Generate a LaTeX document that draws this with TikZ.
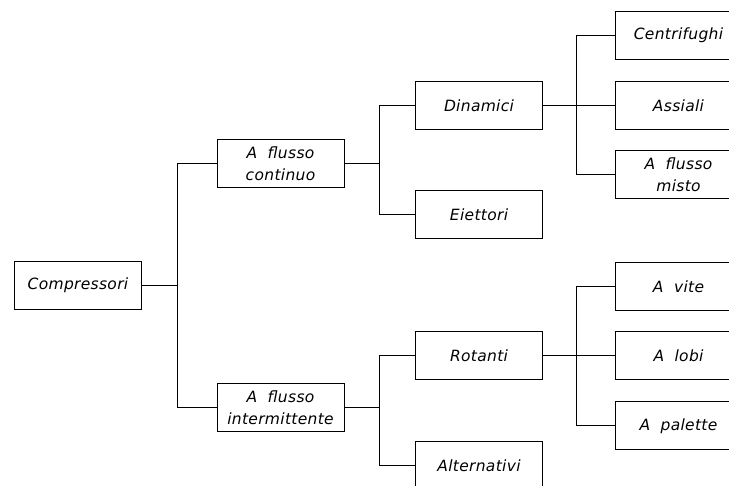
\documentclass[tikz,border=0pt]{standalone}
\usepackage{fontspec}
\setmainfont{DejaVu Sans}[LetterSpace=2]
\usetikzlibrary{positioning}
\tikzset{every node/.style={font=\itshape}}
\tikzset{box/.style={draw, line width=1pt, minimum width=127, minimum height=48, inner sep=0, align=center, font=\fontsize{15.5}{22}\selectfont\itshape}}

\begin{document}
\begin{tikzpicture}[x=1pt, y=-1pt, line width=1pt]

% margini del disegno
\useasboundingbox (0,0) rectangle (729,486);
\clip (0,0) rectangle (729,486);

% nodi
\node[box] (comp) at (78, 285.5) {Compressori};

\node[box] (cont) at (280.5, 164) {A~~flusso\\continuo};
\node[box] (inter) at (280.5, 407.5) {A~~flusso\\intermittente};

\node[box] (din) at (479, 105.5) {Dinamici};
\node[box] (eie) at (479, 215) {Eiettori};
\node[box] (rot) at (479, 356) {Rotanti};
\node[box] (alt) at (479, 466) {Alternativi};

\node[box] (cen) at (678.5, 35.5) {Centrifughi};
\node[box] (ass) at (678.5, 105.5) {Assiali};
\node[box] (mis) at (678.5, 175) {A~~flusso\\misto};

\node[box] (vit) at (678.5, 287) {A~~vite};
\node[box] (lob) at (678.5, 356) {A~~lobi};
\node[box] (pal) at (678.5, 426) {A~~palette};

% punti di diramazione
\coordinate (J1) at (177, 285.5);
\coordinate (J2) at (379, 164);
\coordinate (J3) at (379, 407.5);
\coordinate (J4) at (576, 105.5);
\coordinate (J5) at (576, 356);

% collegamenti
\draw (comp) -- (J1);
\draw (J1) |- (cont.west);
\draw (J1) |- (inter.west);

\draw (cont) -- (J2);
\draw (J2) |- (din.west);
\draw (J2) |- (eie.west);

\draw (inter) -- (J3);
\draw (J3) |- (rot.west);
\draw (J3) |- (alt.west);

\draw (din) -- (ass);
\draw (J4) |- (cen.west);
\draw (J4) |- (mis.west);

\draw (rot) -- (lob);
\draw (J5) |- (vit.west);
\draw (J5) |- (pal.west);

\end{tikzpicture}
\end{document}
